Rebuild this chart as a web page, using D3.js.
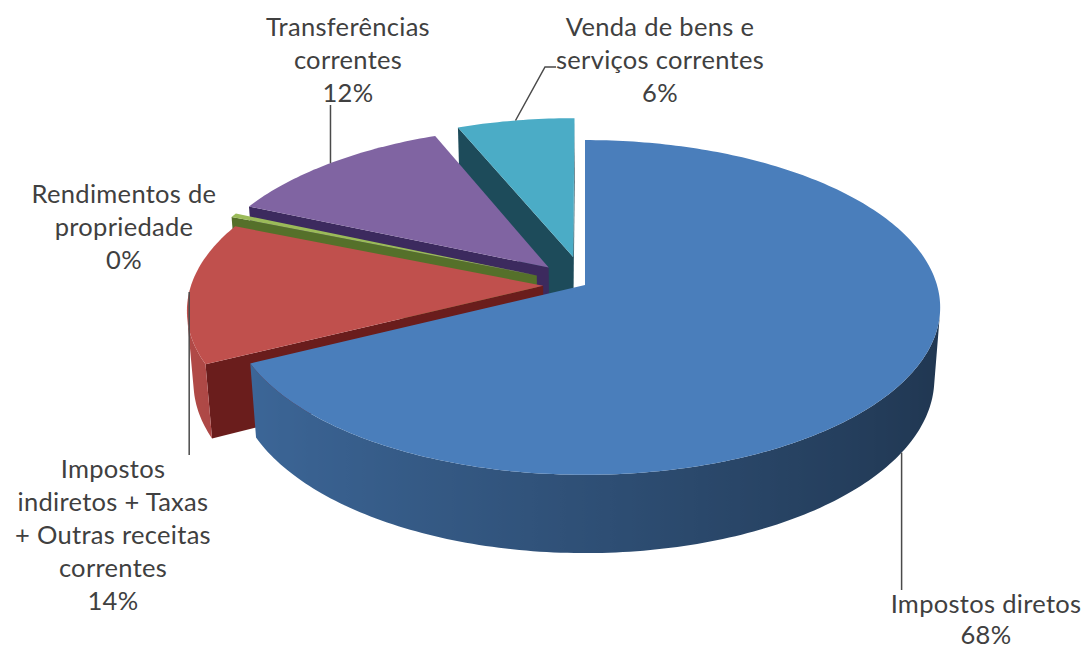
<!DOCTYPE html>
<html><head><meta charset="utf-8">
<script src="https://cdn.jsdelivr.net/npm/d3@7"></script>
<style>html,body{margin:0;padding:0;background:#fff}svg{display:block}</style>
</head><body>
<svg id="c" width="1084" height="648"></svg>
<script>
// ---- data ----
const categories = ["Impostos diretos", "Impostos indiretos + Taxas + Outras receitas correntes", "Rendimentos de propriedade", "Transferências correntes", "Venda de bens e serviços correntes"];
const values = [67.6, 13.6, 0.4, 12.2, 6.2];
const labelLines = [["Impostos diretos"], ["Impostos", "indiretos + Taxas", "+ Outras receitas", "correntes"], ["Rendimentos de", "propriedade"], ["Transferências", "correntes"], ["Venda de bens e", "serviços correntes"]];

// ---- style / layout ----
const explode = [0, 0.119, 0.15, 0.15, 0.178];
const topColors = ["#4a7ebb", "#c0504d", "#9bbb59", "#8064a2", "#4bacc6"];
const cutColors = ["#2a4a75", "#6a1d1c", "#55702a", "#3c2a5e", "#1d4b5a"];
const wallBoost = [1, 1.12, 1, 1, 1];
const labelPos = [[986, 613], [113, 478], [124, 203], [348, 36], [660, 36]];
const labelLineH = [31, 33, 33, 33, 33];

const cx = 585, cy = 285, F = 2323, D = 6.6, sinP = 0.467, cosP = Math.sqrt(1 - sinP * sinP), T = 0.232;
function proj(X, Y, Z) {
  const up = Y * cosP + Z * sinP;
  const d = D + (-Y * sinP + Z * cosP);
  return [cx + F * X / d, cy - F * up / d, d];
}

const svg = d3.select("#c");
const defs = svg.append("defs");
const pie = d3.pie().sort(null).value(d => d);
const arcs = pie(values);
const line = d3.line();
const walls = [], tops = [], anchors = [];

function shade(col, f) {
  const c = d3.rgb(col);
  return d3.rgb(Math.min(255, c.r * f), Math.min(255, c.g * f), Math.min(255, c.b * f)).formatHex();
}

arcs.forEach((s, i) => {
  const e = explode[i], mid = (s.startAngle + s.endAngle) / 2;
  const ox = e * Math.sin(mid), oz = e * Math.cos(mid);
  const P = (a, r, y) => proj(ox + r * Math.sin(a), y, oz + r * Math.cos(a));
  const n = Math.max(2, Math.ceil((s.endAngle - s.startAngle) / (Math.PI / 180)));
  const angs = d3.range(n + 1).map(k => s.startAngle + (s.endAngle - s.startAngle) * k / n);
  tops.push({ pts: [P(0, 0, 0), ...angs.map(a => P(a, 1, 0))], fill: topColors[i] });
  // outer wall: contiguous visible angles
  const visAngs = [];
  for (let k = 0; k < n; k++) {
    const a0 = angs[k], a1 = angs[k + 1], am = (a0 + a1) / 2;
    const nx = Math.sin(am), nz = Math.cos(am);
    const px = ox + nx, pz = oz + nz;
    if (nx * (0 - px) + nz * (-D * cosP - pz) > 0) {
      if (!visAngs.length || visAngs[visAngs.length - 1] !== a0) visAngs.push(a0);
      visAngs.push(a1);
    }
  }
  if (visAngs.length > 1) {
    const topPts = visAngs.map(a => P(a, 1, 0));
    const botPts = visAngs.map(a => P(a, 1, -T));
    const pts = [...topPts, ...botPts.reverse()];
    const xs = topPts.map(p => p[0]);
    const x0 = d3.min(xs), x1 = d3.max(xs);
    const gid = "wg" + i;
    const g = defs.append("linearGradient").attr("id", gid).attr("gradientUnits", "userSpaceOnUse")
      .attr("x1", x0).attr("x2", x1 + 0.001).attr("y1", 0).attr("y2", 0);
    const stops = visAngs.map((a, k) => ({ off: (topPts[k][0] - x0) / (x1 - x0 + 0.001), col: shade(topColors[i], (0.63 - 0.2 * Math.sin(a)) * wallBoost[i]) }))
      .sort((a, b) => a.off - b.off);
    g.selectAll("stop").data(stops).join("stop").attr("offset", d => d.off).attr("stop-color", d => d.col);
    walls.push({ pts, fill: "url(#" + gid + ")", depth: d3.mean(pts, p => p[2]) });
  }
  // cut faces
  [[s.startAngle, -1], [s.endAngle, 1]].forEach(([a, sg]) => {
    const nx = sg * Math.cos(a), nz = -sg * Math.sin(a);
    if (nx * (0 - ox) + nz * (-D * cosP - oz) > 1e-3) {
      const pts = [P(a, 0, 0), P(a, 1, 0), P(a, 1, -T), P(a, 0, -T)];
      walls.push({ pts, fill: cutColors[i], depth: d3.mean(pts, p => p[2]) });
    }
  });
  anchors.push({ top: P(mid, 1, 0), bottom: P(mid, 1, -T) });
});

walls.sort((a, b) => b.depth - a.depth);
svg.append("g").selectAll("path").data(walls).join("path")
  .attr("d", d => line(d.pts.map(p => [p[0], p[1]])) + "Z")
  .attr("fill", d => d.fill);

svg.append("g").selectAll("path").data(tops).join("path")
  .attr("d", d => line(d.pts.map(p => [p[0], p[1]])) + "Z")
  .attr("fill", d => d.fill);

// leader lines
const leaders = [
  [[anchors[0].bottom[0], anchors[0].bottom[1]], [anchors[0].bottom[0], 590]],
  [[anchors[1].top[0], anchors[1].top[1]], [anchors[1].top[0], 455]],
  null,
  [[anchors[3].top[0], anchors[3].top[1]], [anchors[3].top[0], 105]],
  [[anchors[4].top[0], anchors[4].top[1]], [545, 67], [556, 67]]
];
svg.append("g").selectAll("path").data(leaders.filter(d => d)).join("path")
  .attr("d", d => line(d))
  .attr("fill", "none").attr("stroke", "#4a4a4a").attr("stroke-width", 1.5);

// labels
const lg = svg.append("g").attr("font-family", "Lato, 'Open Sans', sans-serif").attr("font-size", 25.5)
  .attr("letter-spacing", 0.3).attr("fill", "#404040").attr("text-anchor", "middle");
values.forEach((v, i) => {
  const lines = [...labelLines[i], Math.round(v) + "%"];
  const t = lg.append("text").attr("x", labelPos[i][0]).attr("y", labelPos[i][1]);
  lines.forEach((l, k) => t.append("tspan").attr("x", labelPos[i][0]).attr("y", labelPos[i][1] + k * labelLineH[i]).text(l));
});
</script>
</body></html>
